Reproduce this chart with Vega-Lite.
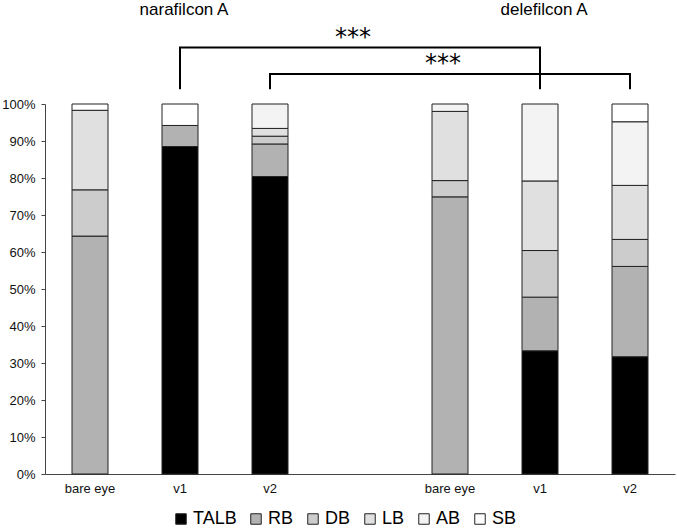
{
  "$schema": "https://vega.github.io/schema/vega-lite/v6.json",
  "width": 630,
  "height": 370,
  "autosize": "none",
  "padding": {"left": 45, "top": 104, "right": 2, "bottom": 56},
  "background": "white",
  "config": {
    "font": "Liberation Sans",
    "view": {"stroke": null},
    "axis": {"grid": false, "labelFont": "Liberation Sans", "labelColor": "#111", "labelFontSize": 13, "domainColor": "#444", "tickColor": "#444", "title": null}
  },
  "datasets": {
    "bars": [
      {"bar": "n0", "type": "RB", "k": 2, "v": 64.3},
      {"bar": "n0", "type": "DB", "k": 3, "v": 12.5},
      {"bar": "n0", "type": "LB", "k": 4, "v": 21.5},
      {"bar": "n0", "type": "SB", "k": 6, "v": 1.7},
      {"bar": "n1", "type": "TALB", "k": 1, "v": 88.5},
      {"bar": "n1", "type": "RB", "k": 2, "v": 5.7},
      {"bar": "n1", "type": "SB", "k": 6, "v": 5.8},
      {"bar": "n2", "type": "TALB", "k": 1, "v": 80.4},
      {"bar": "n2", "type": "RB", "k": 2, "v": 8.8},
      {"bar": "n2", "type": "DB", "k": 3, "v": 2.1},
      {"bar": "n2", "type": "LB", "k": 4, "v": 2.1},
      {"bar": "n2", "type": "AB", "k": 5, "v": 6.6},
      {"bar": "d0", "type": "RB", "k": 2, "v": 74.9},
      {"bar": "d0", "type": "DB", "k": 3, "v": 4.4},
      {"bar": "d0", "type": "LB", "k": 4, "v": 18.7},
      {"bar": "d0", "type": "AB", "k": 5, "v": 2.0},
      {"bar": "d1", "type": "TALB", "k": 1, "v": 33.3},
      {"bar": "d1", "type": "RB", "k": 2, "v": 14.5},
      {"bar": "d1", "type": "DB", "k": 3, "v": 12.6},
      {"bar": "d1", "type": "LB", "k": 4, "v": 18.8},
      {"bar": "d1", "type": "AB", "k": 5, "v": 20.8},
      {"bar": "d2", "type": "TALB", "k": 1, "v": 31.7},
      {"bar": "d2", "type": "RB", "k": 2, "v": 24.4},
      {"bar": "d2", "type": "DB", "k": 3, "v": 7.3},
      {"bar": "d2", "type": "LB", "k": 4, "v": 14.6},
      {"bar": "d2", "type": "AB", "k": 5, "v": 17.2},
      {"bar": "d2", "type": "SB", "k": 6, "v": 4.8}
    ],
    "brackets": [
      {"b": 1, "k": 1, "bar": "n1", "y": 104.0},
      {"b": 1, "k": 2, "bar": "n1", "y": 115.3},
      {"b": 1, "k": 3, "bar": "d1", "y": 115.3},
      {"b": 1, "k": 4, "bar": "d1", "y": 104.0},
      {"b": 2, "k": 1, "bar": "n2", "y": 104.0},
      {"b": 2, "k": 2, "bar": "n2", "y": 108.1},
      {"b": 2, "k": 3, "bar": "d2", "y": 108.1},
      {"b": 2, "k": 4, "bar": "d2", "y": 104.0}
    ],
    "titles": [
      {"bar": "n1", "y": 124.0, "label": "narafilcon A"},
      {"bar": "d1", "y": 124.0, "label": "delefilcon A"}
    ],
    "stars": [
      {"bar": "gap", "y": 116.0, "label": "***"},
      {"bar": "d0", "y": 108.8, "label": "***"}
    ]
  },
  "layer": [
    {
      "data": {"name": "bars"},
      "mark": {"type": "bar", "stroke": "#222", "strokeWidth": 1},
      "encoding": {
        "x": {
          "field": "bar", "type": "nominal", "title": null,
          "scale": {"domain": ["n0", "n1", "n2", "gap", "d0", "d1", "d2"], "paddingInner": 0.6, "paddingOuter": 0.3},
          "axis": {"labelAngle": 0, "ticks": false, "tickSize": 0, "labelPadding": 8, "domainColor": "#444",
                   "labelExpr": "datum.value == 'gap' ? '' : (substring(datum.value, 1, 2) == '0' ? 'bare eye' : 'v' + substring(datum.value, 1, 2))"}
        },
        "y": {
          "field": "v", "type": "quantitative", "stack": "zero", "title": null,
          "scale": {"domain": [0, 100], "nice": false},
          "axis": {"values": [0, 10, 20, 30, 40, 50, 60, 70, 80, 90, 100], "tickCount": 11, "labelOverlap": false, "labelExpr": "datum.value + '%'", "tickSize": 4, "labelPadding": 6}
        },
        "color": {
          "field": "type", "type": "nominal",
          "scale": {"domain": ["TALB", "RB", "DB", "LB", "AB", "SB"], "range": ["#000000", "#b2b2b2", "#cccccc", "#e0e0e0", "#f3f3f3", "#ffffff"]},
          "legend": {"orient": "none", "legendX": 127, "legendY": 406, "direction": "horizontal", "title": null,
                     "symbolType": "square", "symbolSize": 110, "symbolStrokeColor": "#222", "symbolStrokeWidth": 1,
                     "labelFontSize": 18, "labelFont": "Liberation Sans", "labelColor": "#000", "columnPadding": 10, "labelOffset": 3}
        },
        "order": {"field": "k", "type": "quantitative", "sort": "ascending"}
      }
    },
    {
      "data": {"name": "brackets"},
      "mark": {"type": "line", "color": "#000", "strokeWidth": 2},
      "encoding": {
        "x": {"field": "bar", "type": "nominal", "title": null},
        "y": {"field": "y", "type": "quantitative", "title": null,
              "axis": {"values": [0, 10, 20, 30, 40, 50, 60, 70, 80, 90, 100], "tickCount": 11, "labelOverlap": false, "labelExpr": "datum.value + '%'", "tickSize": 4, "labelPadding": 6}},
        "detail": {"field": "b", "type": "nominal"},
        "order": {"field": "k", "type": "quantitative"}
      }
    },
    {
      "data": {"name": "titles"},
      "mark": {"type": "text", "fontSize": 17, "font": "Liberation Sans", "color": "#000", "baseline": "alphabetic", "align": "center", "dx": 4},
      "encoding": {
        "x": {"field": "bar", "type": "nominal", "title": null},
        "y": {"field": "y", "type": "quantitative", "title": null,
              "axis": {"values": [0, 10, 20, 30, 40, 50, 60, 70, 80, 90, 100], "tickCount": 11, "labelOverlap": false, "labelExpr": "datum.value + '%'", "tickSize": 4, "labelPadding": 6}},
        "text": {"field": "label"}
      }
    },
    {
      "data": {"name": "stars"},
      "mark": {"type": "text", "fontSize": 24, "font": "DejaVu Sans", "color": "#000", "baseline": "alphabetic", "align": "center", "dx": -7},
      "encoding": {
        "x": {"field": "bar", "type": "nominal", "title": null},
        "y": {"field": "y", "type": "quantitative", "title": null,
              "axis": {"values": [0, 10, 20, 30, 40, 50, 60, 70, 80, 90, 100], "tickCount": 11, "labelOverlap": false, "labelExpr": "datum.value + '%'", "tickSize": 4, "labelPadding": 6}},
        "text": {"field": "label"}
      }
    }
  ]
}
